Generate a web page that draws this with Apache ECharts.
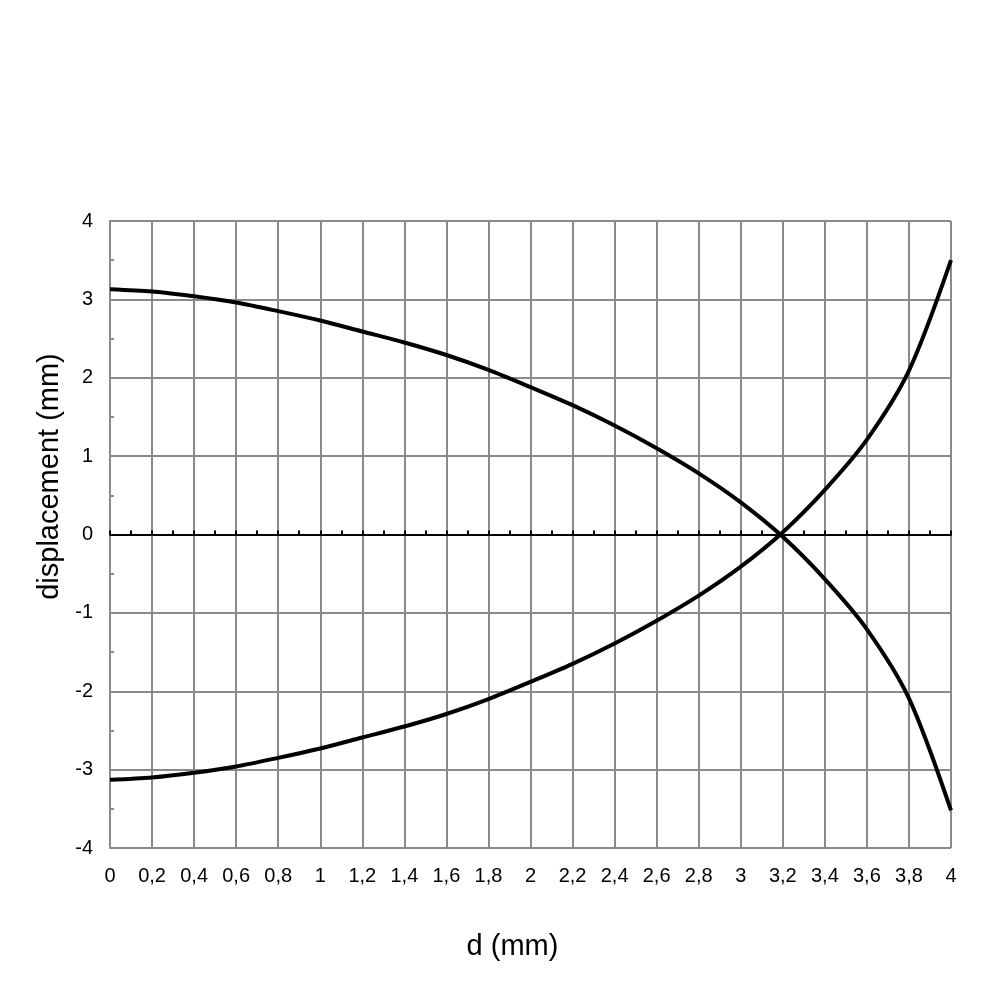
<!DOCTYPE html>
<html>
<head>
<meta charset="utf-8">
<script src="https://cdn.jsdelivr.net/npm/echarts@6/dist/echarts.min.js"></script>
<style>html,body{margin:0;padding:0;background:#fff}#c{width:1000px;height:1000px}</style>
</head>
<body>
<div id="c"></div>
<script>
var dValues = [0,0.2,0.4,0.6,0.8,1,1.2,1.4,1.6,1.8,2,2.2,2.4,2.6,2.8,3,3.2,3.4,3.6,3.8,4];
var upperDisp = [3.13,3.10,3.04,2.96,2.85,2.73,2.59,2.45,2.29,2.10,1.88,1.65,1.39,1.10,0.78,0.41,-0.03,-0.57,-1.21,-2.09,-3.52];
var lowerDisp = [-3.13,-3.10,-3.04,-2.96,-2.85,-2.73,-2.59,-2.45,-2.29,-2.10,-1.88,-1.65,-1.39,-1.10,-0.78,-0.41,0.03,0.57,1.21,2.09,3.50];
var xTitle = 'd (mm)';
var yTitle = 'displacement (mm)';

function pairs(xs, ys){ return xs.map(function(x,i){ return [x, ys[i]]; }); }
var font = 'Liberation Sans, Arial, Helvetica, sans-serif';
var gray = '#8a8a8a';

var chart = echarts.init(document.getElementById('c'), null, {renderer:'canvas'});
chart.setOption({
  animation: false,
  backgroundColor: '#fff',
  grid: {left:110, right:49, top:221, bottom:152, containLabel:false},
  xAxis: [{
    type:'value', min:0, max:4, interval:0.2, position:'bottom',
    axisLine:{show:false, onZero:false},
    axisTick:{show:false},
    axisLabel:{fontFamily:font, fontSize:20, color:'#000', margin:18,
      formatter:function(v){ return String(Math.round(v*10)/10).replace('.', ','); }},
    splitLine:{show:true, lineStyle:{color:gray, width:2}},
    name: xTitle, nameLocation:'middle', nameGap:84,
    nameTextStyle:{fontFamily:font, fontSize:29, color:'#000', padding:[0,36,0,0]}
  },{
    type:'value', min:0, max:4, interval:0.2, position:'top',
    axisLine:{show:true, onZero:true, lineStyle:{color:'#000', width:2}},
    axisTick:{show:true, inside:false, length:4, lineStyle:{color:'#000', width:2}},
    minorTick:{show:true, splitNumber:2, length:4, lineStyle:{color:'#000', width:2}},
    axisLabel:{show:false},
    splitLine:{show:false}
  }],
  yAxis: {
    type:'value', min:-4, max:4, interval:1,
    axisLine:{show:true, lineStyle:{color:gray, width:2}},
    axisTick:{show:false, inside:true},
    minorTick:{show:true, splitNumber:2, length:4, lineStyle:{color:gray, width:2}},
    axisLabel:{fontFamily:font, fontSize:20, color:'#000', margin:17},
    splitLine:{show:true, lineStyle:{color:gray, width:2}},
    name: yTitle, nameLocation:'middle', nameGap:44,
    nameTextStyle:{fontFamily:font, fontSize:29, color:'#000', padding:[0,0,0,116]}
  },
  series: [{
    type:'line', xAxisIndex:0, data: pairs(dValues, upperDisp), smooth:0.3,
    showSymbol:false, symbol:'none', lineStyle:{color:'#000', width:4}, z:5
  },{
    type:'line', xAxisIndex:0, data: pairs(dValues, lowerDisp), smooth:0.3,
    showSymbol:false, symbol:'none', lineStyle:{color:'#000', width:4}, z:5
  }]
});
</script>
</body>
</html>
